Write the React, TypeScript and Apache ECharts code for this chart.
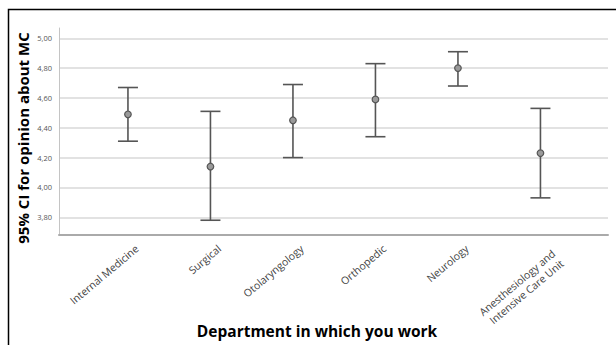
import React, { useEffect, useRef } from "react";
import * as echarts from "echarts";

// Departments on the x axis
const departments = [
  "Internal Medicine",
  "Surgical",
  "Otolaryngology",
  "Orthopedic",
  "Neurology",
  "Anesthesiology and\nIntensive Care Unit",
];

// Mean opinion score and its 95% confidence bounds per department
const means = [4.49, 4.14, 4.45, 4.59, 4.8, 4.23];
const lowerCI = [4.31, 3.78, 4.2, 4.34, 4.68, 3.93];
const upperCI = [4.67, 4.51, 4.69, 4.83, 4.91, 4.53];

// Y tick labels
const yTicks = [3.8, 4.0, 4.2, 4.4, 4.6, 4.8, 5.0];

const Y_MIN = 3.681;
const Y_MAX = 5.069;

export default function App() {
  const ref = useRef<HTMLDivElement>(null);

  useEffect(() => {
    if (!ref.current) return;
    const chart = echarts.init(ref.current, undefined, { renderer: "svg" });

    const data = departments.map((_, i) => [i, lowerCI[i], upperCI[i], means[i]]);
    const font = "'Open Sans', 'Noto Sans', sans-serif";
    const lineColor = "#555555";

    // two-line labels hang from their first line like the single-line ones
    const labelItems = departments.map((d) =>
      d.includes("\n") ? { value: d, textStyle: { verticalAlign: "top" } } : d
    );

    chart.setOption({
      animation: false,
      backgroundColor: "#ffffff",
      grid: [
        // frame: axis lines and gridlines
        { left: 59, right: 8, top: 28, bottom: 110 },
        // error bars
        { left: 86.7, right: 34.3, top: 28, bottom: 110 },
        // category labels, nudged right of the bar centres
        { left: 95.7, right: 25.3, top: 28, bottom: 110 },
      ],
      xAxis: [
        {
          type: "value",
          gridIndex: 0,
          min: 0,
          max: 1,
          axisLine: { show: true, onZero: false, lineStyle: { color: "#aaaaaa", width: 2 } },
          axisTick: { show: false },
          axisLabel: { show: false },
          splitLine: { show: false },
        },
        {
          type: "category",
          gridIndex: 1,
          data: departments,
          axisLine: { show: false },
          axisTick: { show: false },
          axisLabel: { show: false },
        },
        {
          type: "category",
          gridIndex: 2,
          data: labelItems,
          axisLine: { show: false },
          axisTick: { show: false },
          axisLabel: {
            rotate: 40,
            fontSize: 10.5,
            color: "#444444",
            fontFamily: font,
            margin: 12,
            lineHeight: 13,
            interval: 0,
          },
        },
      ],
      yAxis: [
        {
          type: "value",
          gridIndex: 0,
          min: Y_MIN,
          max: Y_MAX,
          axisLine: { show: true, lineStyle: { color: "#c4c4c4", width: 1 } },
          axisTick: { show: false, customValues: yTicks },
          axisLabel: {
            customValues: yTicks,
            fontSize: 7.5,
            color: "#555555",
            fontFamily: font,
            margin: 7,
            formatter: (v: number) => v.toFixed(2).replace(".", ","),
          },
          splitLine: { show: true, lineStyle: { color: "#d9d9d9", width: 1.5 } },
        },
        {
          type: "value",
          gridIndex: 1,
          min: Y_MIN,
          max: Y_MAX,
          show: false,
          splitLine: { show: false },
        },
        {
          type: "value",
          gridIndex: 2,
          min: Y_MIN,
          max: Y_MAX,
          show: false,
          splitLine: { show: false },
        },
      ],
      series: [
        {
          type: "custom",
          xAxisIndex: 1,
          yAxisIndex: 1,
          data,
          encode: { x: 0, y: [1, 2, 3] },
          renderItem: (params: any, api: any) => {
            const x = api.value(0);
            const lo = api.coord([x, api.value(1)]);
            const hi = api.coord([x, api.value(2)]);
            const mid = api.coord([x, api.value(3)]);
            const half = 10;
            const style = { stroke: lineColor, lineWidth: 1.6 };
            return {
              type: "group",
              children: [
                { type: "line", shape: { x1: lo[0], y1: lo[1], x2: hi[0], y2: hi[1] }, style },
                { type: "line", shape: { x1: hi[0] - half, y1: hi[1], x2: hi[0] + half, y2: hi[1] }, style },
                { type: "line", shape: { x1: lo[0] - half, y1: lo[1], x2: lo[0] + half, y2: lo[1] }, style },
                {
                  type: "circle",
                  shape: { cx: mid[0], cy: mid[1], r: 3.3 },
                  style: { fill: "#9a9a9a", stroke: lineColor, lineWidth: 1.2 },
                },
              ],
            };
          },
        },
      ],
      graphic: [
        {
          type: "rect",
          silent: true,
          shape: { x: 8.5, y: 9.5, width: 700, height: 400 },
          style: { fill: "none", stroke: "#000000", lineWidth: 1.5 },
        },
        {
          type: "text",
          x: 23,
          y: 138,
          rotation: Math.PI / 2,
          style: {
            text: "95% CI for opinion about MC",
            font: `bold 15px ${font}`,
            fill: "#000000",
            textAlign: "center",
            textVerticalAlign: "middle",
          },
        },
        {
          type: "text",
          x: 317,
          y: 331,
          style: {
            text: "Department in which you work",
            font: `bold 15.5px ${font}`,
            fill: "#000000",
            textAlign: "center",
            textVerticalAlign: "middle",
          },
        },
      ],
    });

    return () => chart.dispose();
  }, []);

  return (
    <div
      ref={ref}
      style={{ position: "fixed", left: 0, top: 0, width: 616, height: 345 }}
    />
  );
}
